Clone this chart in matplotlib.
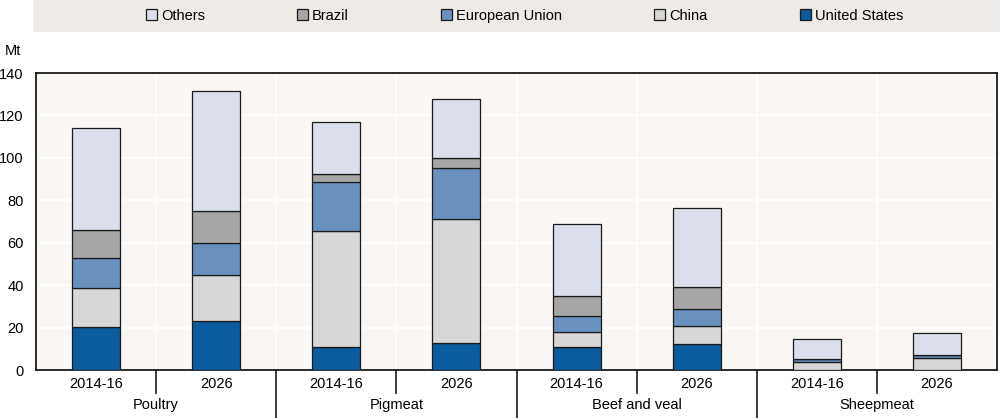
import matplotlib.pyplot as plt
from matplotlib.patches import Rectangle, Patch
from matplotlib.transforms import blended_transform_factory

plt.rcParams['font.family'] = ['Liberation Sans', 'DejaVu Sans']

groups = ['Poultry', 'Pigmeat', 'Beef and veal', 'Sheepmeat']
periods = ['2014-16', '2026'] * 4

# stacked values, Mt (bottom to top)
us = [20.3, 23.0, 10.8, 12.7, 10.7, 12.1, 0.1, 0.1]
china = [18.4, 21.8, 54.7, 58.5, 7.1, 8.8, 3.8, 5.7]
eu = [14.1, 15.2, 23.1, 24.0, 7.8, 7.7, 1.3, 1.2]
brazil = [13.2, 15.0, 3.8, 4.8, 9.4, 10.7, 0.1, 0.1]
others = [48.0, 56.5, 24.6, 27.8, 33.7, 36.9, 9.2, 10.2]

series = [
    ('United States', us, '#0b5c9e'),
    ('China', china, '#d7d7d7'),
    ('European Union', eu, '#6a90be'),
    ('Brazil', brazil, '#a6a6a6'),
    ('Others', others, '#dadfeb'),
]

fs = 10.5

fig = plt.figure(figsize=(10, 4.18), dpi=100)
ax = fig.add_axes([0.036, 0.1148, 0.961, 0.7105])
ax.set_facecolor('#f9f6f3')

x = list(range(len(periods)))
bottom = [0] * len(x)
for name, vals, col in series:
    ax.bar(x, vals, width=0.4, bottom=bottom, color=col,
           edgecolor='#1a1a1a', linewidth=0.9, zorder=3)
    bottom = [b + v for b, v in zip(bottom, vals)]

ax.set_xlim(-0.5, len(x) - 0.5)
ax.set_ylim(0, 140)
ax.set_yticks(range(0, 141, 20))
ax.set_xticks(x)
ax.set_xticklabels(periods)
ax.set_xticks([i + 0.5 for i in x[:-1]], minor=True)
ax.tick_params(axis='both', which='both', length=0, labelsize=fs, colors='black')
ax.tick_params(axis='y', pad=9)
ax.tick_params(axis='x', pad=5)
ax.grid(True, axis='y', color='white', linewidth=1.2, zorder=0)
ax.grid(True, axis='x', which='minor', color='white', linewidth=1.2, zorder=0)
ax.grid(False, axis='x', which='major')
for s in ax.spines.values():
    s.set_color('#1a1a1a')
    s.set_linewidth(1.3)

# two-level x axis
tr = blended_transform_factory(ax.transData, ax.transAxes)
for i in range(len(x) - 1):
    sep = i + 0.5
    low = -0.162 if i % 2 == 1 else -0.077
    ax.plot([sep, sep], [0, low], color='#1a1a1a', linewidth=1.2,
            transform=tr, clip_on=False)
for g, name in enumerate(groups):
    ax.text(2 * g + 0.5, -0.118, name, transform=tr, ha='center', va='center',
            fontsize=fs)

fig.text(0.021, 0.878, 'Mt', ha='right', va='center', fontsize=fs)

# legend band
fig.patches.append(Rectangle((0.033, 0.9234), 0.967, 0.0766,
                             transform=fig.transFigure, facecolor='#eeebe6',
                             edgecolor='none', zorder=0))
handles = [Patch(facecolor=col, edgecolor='#1a1a1a', linewidth=0.9, label=name)
           for name, vals, col in series[::-1]]
fig.legend(handles=handles, loc='center', ncol=5, frameon=False,
           bbox_to_anchor=(0.5245, 0.962), fontsize=fs, handlelength=0.75,
           handleheight=0.75, handletextpad=0.3, columnspacing=6.3)

fig.savefig('out.png', dpi=100)
